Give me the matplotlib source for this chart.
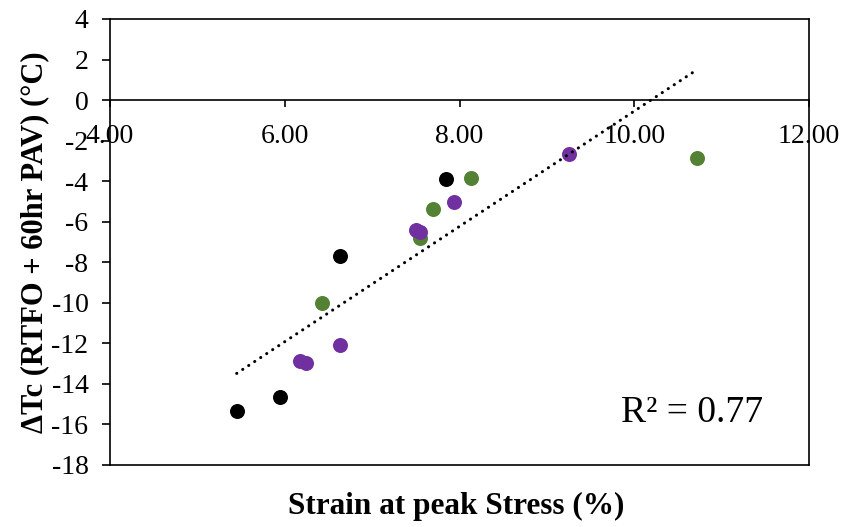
import numpy as np
import matplotlib
matplotlib.use("Agg")
import matplotlib.pyplot as plt
from matplotlib.ticker import FormatStrFormatter

plt.rcParams['font.family'] = ['Liberation Serif', 'DejaVu Serif']
plt.rcParams['axes.unicode_minus'] = False

# Data (strain %, delta Tc)
black_x = [5.45, 5.95, 6.63, 7.84]
black_y = [-15.34, -14.65, -7.70, -3.90]
green_x = [6.43, 7.55, 7.70, 8.13, 10.72]
green_y = [-10.0, -6.8, -5.38, -3.85, -2.86]
purple_x = [6.17, 6.24, 6.63, 7.50, 7.55, 7.94, 9.25]
purple_y = [-12.88, -12.97, -12.09, -6.41, -6.51, -5.03, -2.66]

x_ticks = [4, 6, 8, 10, 12]
y_ticks = list(range(-18, 5, 2))
r2_label = "R² = 0.77"
x_label = "Strain at peak Stress (%)"
y_label = "ΔTc (RTFO + 60hr PAV) (°C)"

fig = plt.figure(figsize=(8.48, 5.27), dpi=100)
ax = fig.add_axes([110/848, 1-465/527, 699/848, 446/527])

ms = 10.8
ax.plot(black_x, black_y, 'o', color='black', ms=ms, mec='none', zorder=3)
ax.plot(green_x, green_y, 'o', color='#548235', ms=ms, mec='none', zorder=3)
ax.plot(purple_x, purple_y, 'o', color='#7030A0', ms=ms, mec='none', zorder=3)

all_x = np.array(black_x + green_x + purple_x)
all_y = np.array(black_y + green_y + purple_y)
m, b = np.polyfit(all_x, all_y, 1)
xs = np.array([all_x.min(), all_x.max()])
ax.plot(xs, m*xs + b, color='black', lw=2.2, linestyle=(0, (0.05, 2.3)),
        dash_capstyle='round', zorder=4)

ax.set_xlim(4, 12)
ax.set_ylim(-18, 4)
ax.set_xticks(x_ticks)
ax.set_yticks(y_ticks)
ax.xaxis.set_major_formatter(FormatStrFormatter('%.2f'))

for s in ax.spines.values():
    s.set_linewidth(1.2)
ax.spines['bottom'].set_position(('data', 0))
ax.plot([0, 1], [0, 0], transform=ax.transAxes, color='black', lw=1.2, clip_on=False)

ax.tick_params(axis='x', direction='out', length=5, width=1.2, pad=12, labelsize=20)
ax.tick_params(axis='y', direction='out', length=5.5, width=1.2, pad=10, labelsize=20)

ax.set_xlabel(x_label, fontsize=22.5, fontweight='bold')
ax.xaxis.set_label_coords(0.495, -0.093)
ax.set_ylabel(y_label, fontsize=22, fontweight='bold')
ax.yaxis.set_label_coords(-0.107, 0.5)
for lab in [ax.xaxis.label, ax.yaxis.label]:
    lab.set_va('center')

ax.text(0.833, 0.117, r2_label, transform=ax.transAxes, fontsize=27,
        ha='center', va='center')

fig.savefig("out.png", dpi=100)
